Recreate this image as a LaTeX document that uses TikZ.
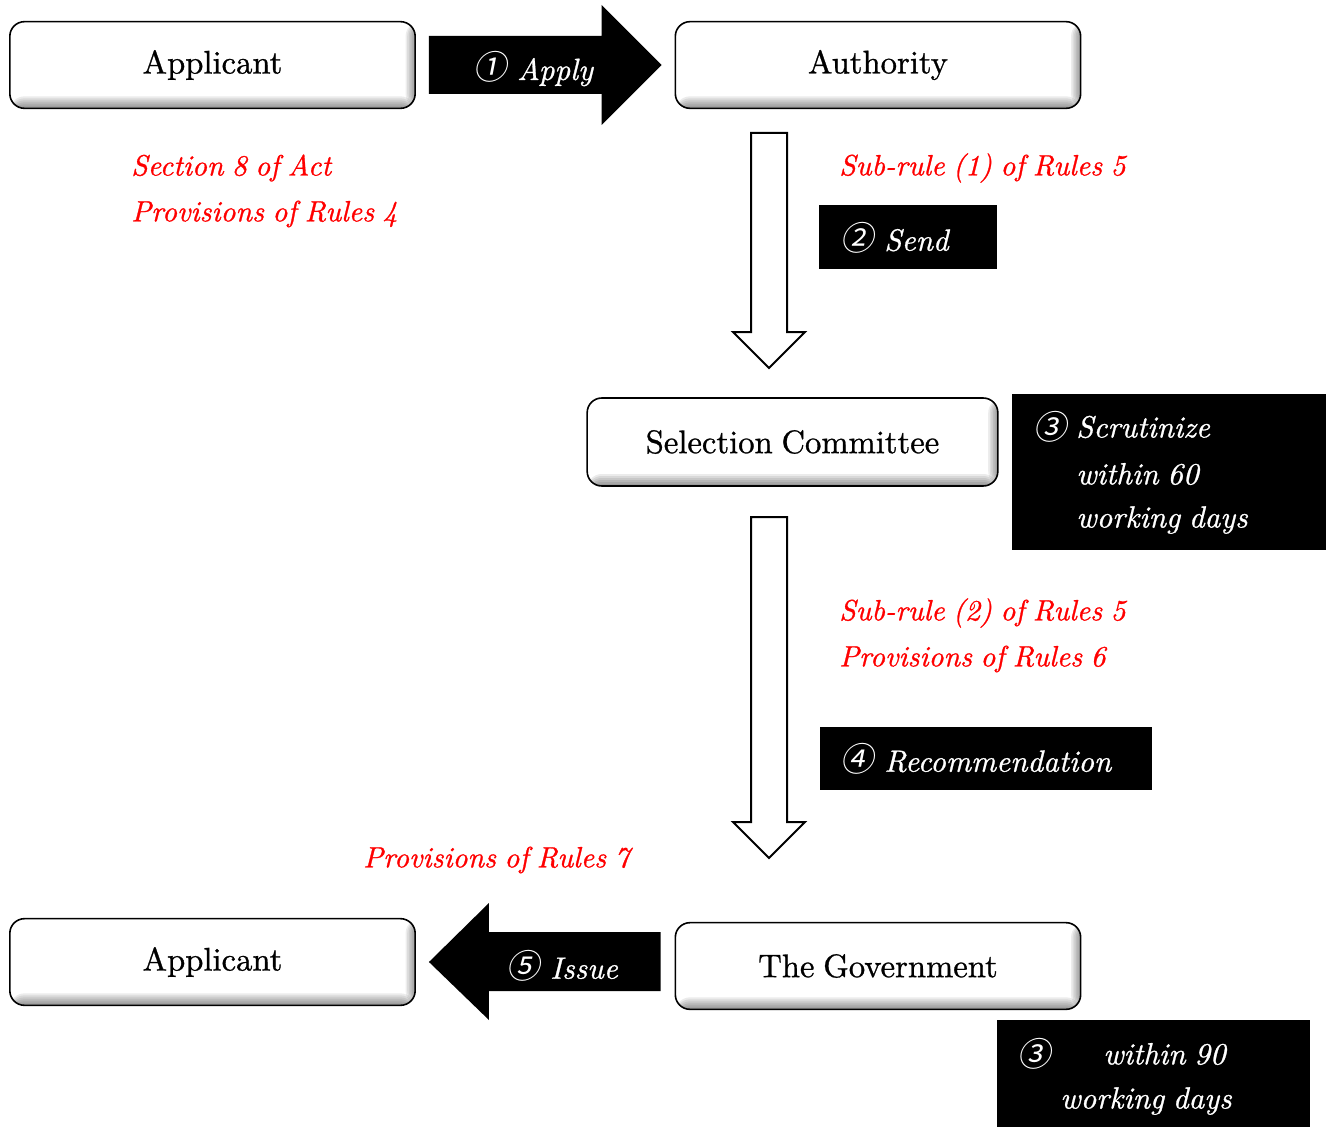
\documentclass[tikz,border=0pt]{standalone}
\usepackage{fontspec}
\setmainfont{lmroman10-regular}[Extension=.otf, ItalicFont=lmroman10-italic, FakeBold=0.9, WordSpace=0.8, ItalicFeatures={FakeBold=0.9}]
\newfontfamily\circfont{Noto Sans CJK JP}[FakeSlant=0.2]
\usetikzlibrary{calc}
\newcommand\cnum[1]{{\circfont\fontsize{25}{27}\selectfont #1}}
\tikzset{
  stepbox/.style={draw=black, line width=1.2pt, rounded corners=11pt, fill=white,
    minimum width=304pt, minimum height=65pt, inner sep=0pt, font=\fontsize{24.5}{28}\selectfont,
    path picture={
      % bevel along the right and lower edges, built from graded strips
      \foreach \k in {1,...,6}{
        \fill[black, opacity=0.07]
          ($(path picture bounding box.north east)+(-1.6*\k,0)$) rectangle (path picture bounding box.south east);
        \fill[black, opacity=0.08]
          ($(path picture bounding box.south west)+(0,-2*\k)$) rectangle (path picture bounding box.south east);
      }
    }},
  blkbox/.style={fill=black, draw=none, inner sep=0pt},
  blkarrow/.style={fill=black, draw=none},
  hollow/.style={draw=black, line width=1.5pt, fill=white},
  wlabel/.style={text=white, inner sep=0pt, font=\fontsize{23}{27}\selectfont\itshape},
  rlabel/.style={text=red, inner sep=0pt, anchor=west, font=\fontsize{22}{26}\selectfont\itshape},
}
\begin{document}
\begin{tikzpicture}[x=0.75pt, y=-0.75pt]
\useasboundingbox (0,0) rectangle (1332,1127);

% main step boxes
\node[stepbox] (app1) at (212.5,65) {Applicant};
\node[stepbox] (auth) at (878,65) {Authority};
\node[stepbox, minimum width=308pt, minimum height=66pt] (sel) at (792.5,442) {Selection Committee};
\node[stepbox] (app2) at (212.5,962) {Applicant};
\node[stepbox] (gov) at (878,966) {The Government};

% (1) apply: block arrow from applicant to authority
\coordinate (a1s) at ($(app1.east)+(13,0)$);
\coordinate (a1t) at ($(a1s -| auth.west)+(-13,0)$);
\fill[blkarrow] ($(a1s)+(0,-29)$) -- ($(a1t)+(-60,-29)$) -- ($(a1t)+(-60,-60)$) -- (a1t)
  -- ($(a1t)+(-60,60)$) -- ($(a1t)+(-60,29)$) -- ($(a1s)+(0,29)$) -- cycle;
\node[wlabel] (applylbl) at (533,69) {\cnum{①}\hspace{0.35em}Apply};

% (5) issue: block arrow from the government back to the applicant
\coordinate (a5t) at ($(app2.east)+(13,0)$);
\coordinate (a5s) at ($(a5t -| gov.west)+(-14,0)$);
\fill[blkarrow] ($(a5s)+(0,-30)$) -- ($(a5t)+(60,-30)$) -- ($(a5t)+(60,-59)$) -- (a5t)
  -- ($(a5t)+(60,58)$) -- ($(a5t)+(60,29)$) -- ($(a5s)+(0,29)$) -- cycle;
\node[wlabel] (issuelbl) at (562,966) {\cnum{⑤}\hspace{0.35em}Issue};

% hollow down arrows
\coordinate (d1s) at (769,133);
\coordinate (d1t) at (769,368);
\draw[hollow] ($(d1s)+(-18,0)$) -- ($(d1s)+(18,0)$) -- ($(d1t)+(18,-36)$) -- ($(d1t)+(36,-36)$)
  -- (d1t) -- ($(d1t)+(-36,-36)$) -- ($(d1t)+(-18,-36)$) -- cycle;
\coordinate (d2s) at (769,517);
\coordinate (d2t) at (769,858);
\draw[hollow] ($(d2s)+(-18,0)$) -- ($(d2s)+(18,0)$) -- ($(d2t)+(18,-36)$) -- ($(d2t)+(36,-36)$)
  -- (d2t) -- ($(d2t)+(-36,-36)$) -- ($(d2t)+(-18,-36)$) -- cycle;

% red references
\node[rlabel] (r1) at (131,168) {Section 8 of Act};
\node[rlabel] (r2) at (131,214) {Provisions of Rules 4};
\node[rlabel] (r3) at (839,168) {Sub-rule (1) of Rules 5};
\node[rlabel] (r4) at (839,613) {Sub-rule (2) of Rules 5};
\node[rlabel] (r5) at (839,659) {Provisions of Rules 6};
\node[rlabel] (r6) at (363,860) {Provisions of Rules 7};

% black action boxes
\node[blkbox, minimum width=133.5pt, minimum height=48pt] (sendbox) at (908,237) {};
\node[wlabel, anchor=west] (sendlbl) at (840,238) {\cnum{②}\hspace{0.35em}Send};

\node[blkbox, minimum width=249pt, minimum height=47.25pt] (recbox) at (986,758.5) {};
\node[wlabel, anchor=west] (reclbl) at (840,759) {\cnum{④}\hspace{0.35em}Recommendation};

\node[blkbox, minimum width=235.5pt, minimum height=117pt] (scrbox) at (1169,472) {};
\node[wlabel, anchor=west] (scr1) at (1033,427) {\cnum{③}};
\node[wlabel, anchor=west] (scr2) at (1076,427) {Scrutinize};
\node[wlabel, anchor=west] (scr3) at (1076,474) {within 60};
\node[wlabel, anchor=west] (scr4) at (1076,520) {working days};

\node[blkbox, minimum width=234.75pt, minimum height=80.25pt] (ninbox) at (1153.5,1073.5) {};
\node[wlabel, anchor=west] (nin1) at (1017,1054) {\cnum{③}};
\node[wlabel, anchor=west] (nin2) at (1103,1054) {within 90};
\node[wlabel, anchor=west] (nin3) at (1060,1101) {working days};
\end{tikzpicture}
\end{document}
